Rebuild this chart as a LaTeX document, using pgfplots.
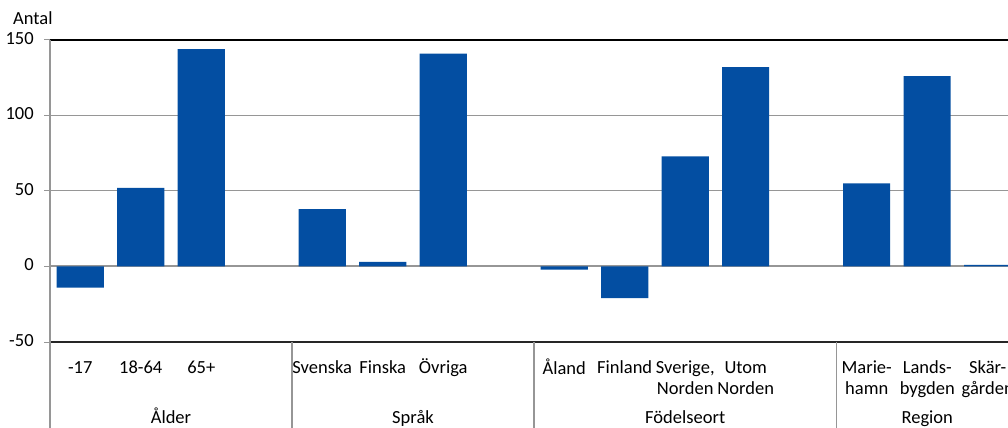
\documentclass[border=0pt]{standalone}
\usepackage{pgfplots}
\pgfplotsset{compat=1.18}
\usepackage{fontspec}
\setmainfont{Carlito}
\definecolor{barblue}{RGB}{3,78,162}
\definecolor{gridgray}{RGB}{150,150,150}

\begin{document}
\fontsize{18.5bp}{21bp}\selectfont
\begin{tikzpicture}
\begin{axis}[
  at={(50bp,86bp)}, anchor=south west,
  width=958bp, height=302bp, scale only axis,
  xmin=-0.5, xmax=15.335, ymin=-50, ymax=150,
  clip=false,
  axis line style={draw=none},
  ytick={-50,0,50,100,150},
  xtick={0,1,2,4,5,6,8,9,10,11,13,14,15},
  xticklabels={-17,18-64,65+,Svenska,Finska,Övriga,Åland,Finland,{Sverige,\\Norden},{Utom\\Norden},{Marie-\\hamn},{Lands-\\bygden},{Skär-\\gården}},
  typeset ticklabels with strut,
  xticklabel style={align=center, font=\fontsize{18.5bp}{21bp}\selectfont, yshift=-4bp},
  yticklabel style={font=\fontsize{18.5bp}{21bp}\selectfont, xshift=-4bp},
  /pgf/number format/assume math mode=true,
  major x tick style={draw=none},
  tick align=outside, major tick length=6bp,
  major y tick style={gridgray, line width=1bp},
  ymajorgrids, grid style={gridgray, line width=1bp},
  ybar, bar width=0.777,
]
\draw[gridgray, line width=2bp] (axis cs:-0.5,0) -- (axis cs:15.335,0);
\addplot[fill=barblue, draw=none] coordinates {
  (0,-14) (1,52) (2,144)
  (4,38) (5,3) (6,141)
  (8,-2) (9,-21) (10,73) (11,132)
  (13,55) (14,126) (15,1)
};
\draw[black, line width=1.2bp] (axis cs:-0.5,150) -- (axis cs:15.335,150);
\draw[black!85, line width=1.2bp] (axis cs:-0.5,-50) -- (axis cs:15.335,-50);
\draw[gridgray, line width=1.5bp] (axis cs:-0.5,150) -- ([yshift=-90bp]axis cs:-0.5,-50);
\draw[gridgray, line width=1.5bp] (axis cs:3.5,-50) -- ([yshift=-90bp]axis cs:3.5,-50);
\draw[gridgray, line width=1.5bp] (axis cs:7.5,-50) -- ([yshift=-90bp]axis cs:7.5,-50);
\draw[gridgray, line width=1.5bp] (axis cs:12.5,-50) -- ([yshift=-90bp]axis cs:12.5,-50);
\node[anchor=base] at ([yshift=-81bp]axis cs:1.5,-50) {Ålder};
\node[anchor=base] at ([yshift=-81bp]axis cs:5.5,-50) {Språk};
\node[anchor=base] at ([yshift=-81bp]axis cs:10,-50) {Födelseort};
\node[anchor=base] at ([yshift=-81bp]axis cs:14,-50) {Region};
\end{axis}
\node[anchor=base west, inner sep=0pt] at (13bp,403bp) {Antal};
\pgfresetboundingbox
\useasboundingbox (0,0) rectangle (1008bp,428bp);
\end{tikzpicture}
\end{document}
